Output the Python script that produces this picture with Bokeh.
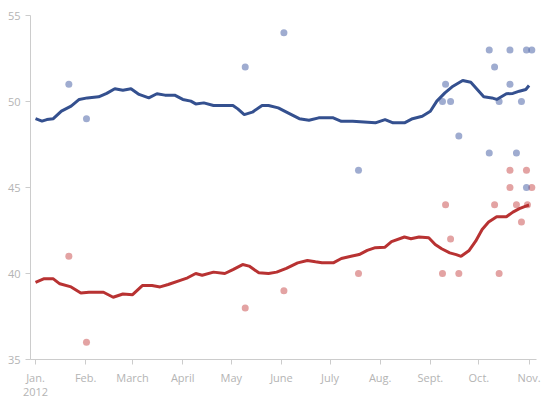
from bokeh.plotting import figure
from bokeh.models import Range1d, FixedTicker, LinearAxis
from bokeh.embed import file_html
from bokeh.resources import INLINE

# x values: days since Jan. 1, 2012
month_days = [0, 31, 60, 91, 121, 152, 182, 213, 244, 274, 305]
month_labels = ["Jan.", "Feb.", "March", "April", "May", "June",
                "July", "Aug.", "Sept.", "Oct.", "Nov."]
year_day = [0]
year_label = ["2012"]
y_ticks = [35, 40, 45, 50, 55]

# Obama (blue) poll average
obama_day = [0, 4, 7, 11, 16, 22, 27, 32, 39, 44, 49, 54, 59, 64, 70, 75, 80, 86,
             91, 96, 99, 104, 110, 115, 122, 125, 129, 134, 140, 144, 150, 156,
             163, 169, 175, 184, 189, 196, 203, 210, 216, 221, 228, 233, 239,
             244, 248, 253, 258, 264, 269, 273, 277, 282, 285, 291, 295, 299,
             303, 305]
obama_avg = [49.0, 48.86, 48.95, 49.0, 49.44, 49.73, 50.12, 50.21, 50.27, 50.47,
             50.74, 50.66, 50.74, 50.41, 50.21, 50.45, 50.37, 50.37, 50.12,
             50.02, 49.86, 49.92, 49.77, 49.77, 49.77, 49.57, 49.24, 49.38,
             49.77, 49.77, 49.63, 49.34, 49.0, 48.91, 49.05, 49.05, 48.85,
             48.85, 48.81, 48.76, 48.95, 48.76, 48.76, 49.0, 49.14, 49.43,
             50.02, 50.5, 50.89, 51.22, 51.12, 50.7, 50.27, 50.21, 50.12,
             50.45, 50.47, 50.6, 50.7, 50.93]

# Romney (red) poll average
romney_day = [0, 5, 11, 15, 22, 28, 33, 42, 48, 54, 60, 66, 72, 77, 82, 89, 94,
              99, 103, 110, 117, 122, 128, 132, 138, 144, 149, 155, 162, 168,
              173, 177, 184, 189, 195, 200, 205, 210, 216, 220, 228, 232, 237,
              243, 247, 251, 256, 260, 263, 268, 272, 276, 280, 285, 291, 295,
              299, 303, 305]
romney_avg = [39.49, 39.69, 39.69, 39.4, 39.22, 38.87, 38.91, 38.91, 38.62,
              38.81, 38.77, 39.3, 39.3, 39.22, 39.36, 39.59, 39.75, 40.0, 39.9,
              40.08, 40.0, 40.23, 40.52, 40.43, 40.04, 40.0, 40.08, 40.3, 40.62,
              40.76, 40.68, 40.62, 40.62, 40.87, 41.0, 41.1, 41.34, 41.5, 41.53,
              41.85, 42.12, 42.02, 42.12, 42.08, 41.69, 41.44, 41.2, 41.1, 41.0,
              41.34, 41.88, 42.56, 42.99, 43.3, 43.3, 43.57, 43.77, 43.92, 43.98]

# individual polls
obama_poll_day = [20.6, 31.5, 129.6, 153.5, 199.6, 251.5, 253.4, 256.5, 261.6,
                  280.4, 280.4, 283.7, 286.5, 293.2, 293.2, 297.2, 300.3, 303.4,
                  306.7, 303.4]
obama_poll = [51, 49, 52, 54, 46, 50, 51, 50, 48, 53, 47, 52, 50, 53, 51, 47, 50,
              53, 53, 45]
romney_poll_day = [20.6, 31.5, 129.6, 153.5, 199.6, 251.5, 253.4, 256.5, 261.6,
                   283.7, 286.5, 293.2, 293.2, 297.2, 300.3, 303.4, 306.7, 304.0]
romney_poll = [41, 36, 38, 39, 40, 40, 44, 42, 40, 44, 40, 46, 45, 44, 43, 46, 45, 44]

BLUE = "#34508f"
RED = "#b83232"
FONT = "Open Sans"
LABEL = "#b4b4b4"
AXIS = "#cccccc"

p = figure(width=541, height=398, output_backend="svg", toolbar_location=None,
           x_range=Range1d(-3.1, 309.6), y_range=Range1d(35, 55),
           min_border_left=30, min_border_right=5, min_border_top=15,
           min_border_bottom=38)
p.outline_line_color = None
p.grid.visible = False

p.scatter(romney_poll_day, romney_poll, size=7, fill_color="#c84848",
          fill_alpha=0.5, line_color=None)
p.scatter(obama_poll_day, obama_poll, size=7, fill_color="#3f5aa2",
          fill_alpha=0.5, line_color=None)
p.line(obama_day, obama_avg, line_color=BLUE, line_width=3)
p.line(romney_day, romney_avg, line_color=RED, line_width=3)

p.xaxis.ticker = FixedTicker(ticks=month_days)
p.xaxis.major_label_overrides = {d: l for d, l in zip(month_days, month_labels)}
p.yaxis.ticker = FixedTicker(ticks=y_ticks)

for ax in (p.xaxis, p.yaxis):
    ax.axis_line_color = AXIS
    ax.major_tick_line_color = AXIS
    ax.minor_tick_line_color = None
    ax.major_tick_in = 0
    ax.major_tick_out = 5
    ax.major_label_text_color = LABEL
    ax.major_label_text_font = FONT
    ax.major_label_text_font_size = "11px"
    ax.major_label_standoff = 5

year_axis = LinearAxis(ticker=FixedTicker(ticks=year_day),
                       major_label_overrides={d: l for d, l in zip(year_day, year_label)})
year_axis.axis_line_color = None
year_axis.major_tick_line_color = None
year_axis.minor_tick_line_color = None
year_axis.major_tick_in = 0
year_axis.major_tick_out = 0
year_axis.major_label_standoff = 0
year_axis.major_label_text_color = LABEL
year_axis.major_label_text_font = FONT
year_axis.major_label_text_font_size = "11px"
p.add_layout(year_axis, "below")

open("out.html", "w").write(file_html(p, INLINE))
